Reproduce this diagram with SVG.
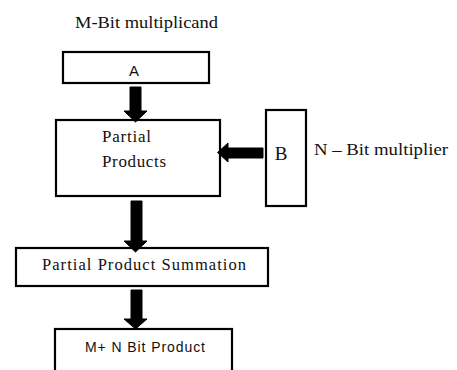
<svg xmlns="http://www.w3.org/2000/svg" width="457" height="370" viewBox="0 0 457 370">
  <style>
    .box { fill: #fff; stroke: #000; stroke-width: 2.2; }
    .serif { font-family: 'Liberation Serif', 'DejaVu Serif', serif; fill: #111; }
    .sans { font-family: 'Liberation Sans', 'DejaVu Sans', sans-serif; fill: #111; }
    .arrow { fill: #000; stroke: #000; stroke-width: 1; stroke-linejoin: round; }
  </style>
  <rect width="457" height="370" fill="#fff"/>

  <!-- captions -->
  <text class="serif" x="75" y="28" font-size="17" textLength="143" lengthAdjust="spacingAndGlyphs">M-Bit multiplicand</text>
  <text class="serif" x="314" y="155" font-size="17" textLength="134" lengthAdjust="spacingAndGlyphs">N – Bit multiplier</text>

  <g id="multiplicand">
    <rect class="box" x="63" y="52" width="146" height="31"/>
    <text class="sans" x="134" y="76" font-size="15" text-anchor="middle">A</text>
  </g>

  <g id="partial-products">
    <rect class="box" x="56" y="120" width="164" height="76"/>
    <text class="serif" x="102" y="142" font-size="17" textLength="49" lengthAdjust="spacing">Partial</text>
    <text class="serif" x="102" y="167" font-size="17" textLength="64" lengthAdjust="spacing">Products</text>
  </g>

  <g id="multiplier">
    <rect class="box" x="266" y="110" width="40" height="96"/>
    <text class="serif" x="281" y="160" font-size="19" text-anchor="middle">B</text>
  </g>

  <g id="summation">
    <rect class="box" x="16" y="248" width="252" height="38"/>
    <text class="serif" x="42" y="270" font-size="16.5" textLength="204" lengthAdjust="spacing">Partial Product Summation</text>
  </g>

  <g id="product">
    <rect class="box" x="55" y="329" width="177" height="60"/>
    <text class="sans" x="85" y="352" font-size="14" textLength="120" lengthAdjust="spacing">M+ N Bit Product</text>
  </g>

  <!-- block arrows -->
  <g id="connectors">
    <polygon class="arrow" points="130,87 141,87 141,111 147,111 135.5,122 124,111 130,111"/>
    <polygon class="arrow" points="131,201 142,201 142,241 147,241 135.5,252 124,241 131,241"/>
    <polygon class="arrow" points="131,290 142,290 142,319 147,319 135.5,329 124,319 131,319"/>
    <polygon class="arrow" points="263,148 263,158 228,158 228,162 217.5,152.5 228,143 228,148"/>
  </g>
</svg>
